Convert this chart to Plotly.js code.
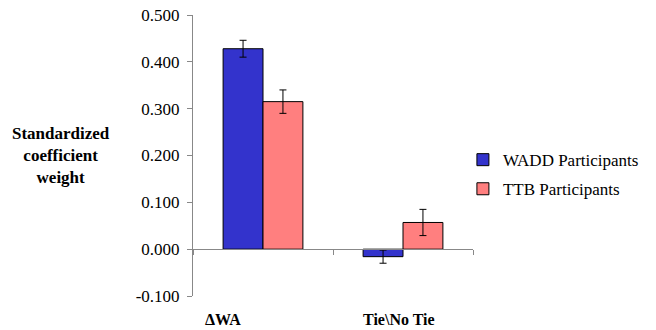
<!DOCTYPE html>
<html><head><meta charset="utf-8">
<script src="https://cdn.plot.ly/plotly-3.0.1.min.js"></script>
<style>
html,body{margin:0;padding:0;background:#fff}
#chart text{font-family:'Liberation Serif','Times New Roman',serif !important;}
</style>
</head><body>
<div id="chart" style="width:656px;height:330px"></div>
<script>
const categories = ["ΔWA", "Tie\\No Tie"];
const waddValues = [0.428, -0.016];
const waddErrors = [0.018, 0.014];
const ttbValues = [0.315, 0.057];
const ttbErrors = [0.025, 0.028];
const seriesNames = ["WADD Participants", "TTB Participants"];
const yTicks = [-0.1, 0, 0.1, 0.2, 0.3, 0.4, 0.5];

const FONT_FAMILY = "Liberation Serif";
const err = (a) => ({type: "data", array: a, visible: true, color: "#000", thickness: 1, width: 3.5});

const traces = [
  {type: "bar", name: seriesNames[0], legendgroup: "a", x: categories, y: waddValues, error_y: err(waddErrors),
   marker: {color: "#3333cc", line: {color: "#000", width: 1}}},
  {type: "bar", name: seriesNames[1], legendgroup: "b", x: categories, y: ttbValues, error_y: err(ttbErrors),
   marker: {color: "#ff7f7f", line: {color: "#000", width: 1}}}
];

const layout = {
  width: 656, height: 330,
  margin: {l: 193, r: 183, t: 15, b: 34, autoexpand: false},
  paper_bgcolor: "#fff", plot_bgcolor: "#fff",
  barmode: "group", bargap: 0.43, bargroupgap: 0,
  font: {family: FONT_FAMILY, color: "#000", size: 17},
  showlegend: true,
  legend: {x: 0.964, xanchor: "left", y: 0.432, yanchor: "middle", font: {family: FONT_FAMILY, size: 17, color: "#000"},
           itemwidth: 30, traceorder: "grouped", tracegroupgap: 4, bgcolor: "rgba(0,0,0,0)"},
  xaxis: {type: "category", anchor: "free", position: 1/6, showticklabels: false,
          showline: true, linecolor: "#888", linewidth: 1, ticks: "outside", tickson: "boundaries",
          ticklen: 5, tickcolor: "#888", showgrid: false, zeroline: false, range: [-0.5, 1.5]},
  yaxis: {range: [-0.1, 0.5], tickvals: yTicks, ticktext: yTicks.map(v => v.toFixed(3)),
          showline: true, linecolor: "#888", linewidth: 1, ticks: "outside", ticklen: 5,
          tickcolor: "#888", showgrid: false, zeroline: false, ticklabelstandoff: 4,
          tickfont: {family: FONT_FAMILY, size: 17, color: "#000"}},
  annotations: [
    {text: "<b>Standardized<br>coefficient<br>weight</b>", xref: "paper", yref: "paper",
     x: -0.47, y: 0.5, xanchor: "center", yanchor: "middle", showarrow: false,
     font: {family: FONT_FAMILY, size: 17, color: "#000"}, align: "center"},
    {text: "<b>" + categories[0] + "</b>", xref: "x", yref: "paper", x: categories[0], y: -0.045,
     xshift: -40, yanchor: "top", showarrow: false, font: {family: FONT_FAMILY, size: 16, color: "#000"}},
    {text: "<b>" + categories[1] + "</b>", xref: "x", yref: "paper", x: categories[1], y: -0.045,
     xshift: -4, yanchor: "top", showarrow: false, font: {family: FONT_FAMILY, size: 16, color: "#000"}}
  ]
};

Plotly.newPlot("chart", traces, layout, {staticPlot: true, displayModeBar: false});
</script>
</body></html>
